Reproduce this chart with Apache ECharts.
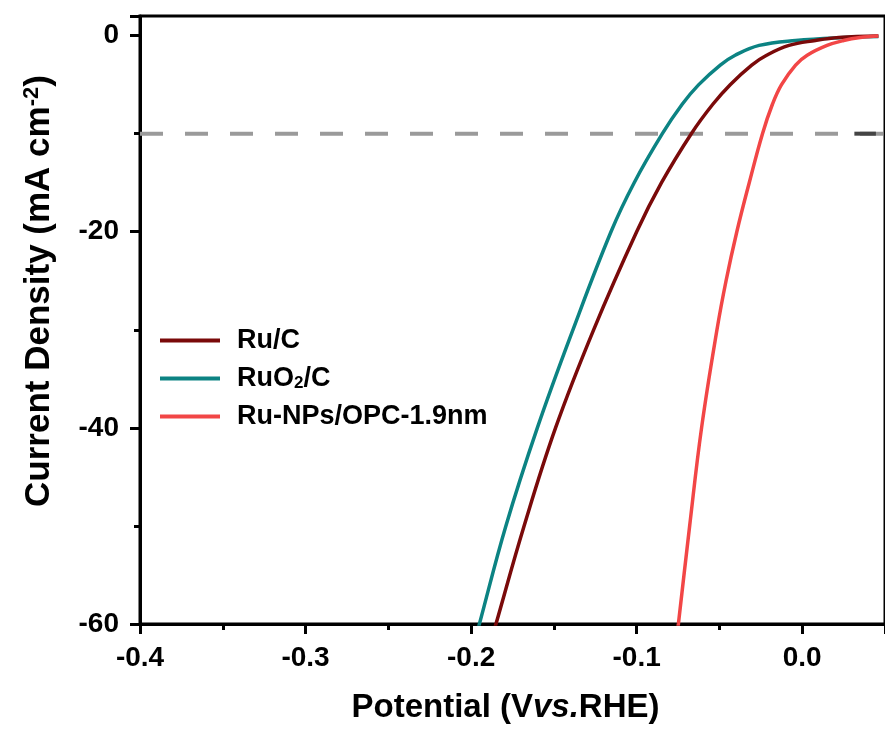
<!DOCTYPE html>
<html>
<head>
<meta charset="utf-8">
<script src="https://cdn.jsdelivr.net/npm/echarts@6/dist/echarts.min.js"></script>
<style>
html,body{margin:0;padding:0;background:#fff;}
#chart{width:885px;height:736px;}
</style>
</head>
<body>
<div id="chart"></div>
<script>
// ---- data ----
const seriesNames = ['Ru/C', 'RuO2/C', 'Ru-NPs/OPC-1.9nm'];

const currentRuC   = [-62, -60, -50, -40, -30, -20, -15, -10, -7, -5, -3, -2, -1, -0.5, -0.2, -0.05];
const potentialRuC = [-0.1884, -0.185, -0.168, -0.149, -0.126, -0.100, -0.085, -0.067, -0.054, -0.0435, -0.0305, -0.0215, -0.008, 0.008, 0.022, 0.046];

const currentRuO2   = [-62, -60, -50, -40, -30, -20, -15, -10, -7, -5, -3, -2, -1, -0.5, -0.2, -0.1];
const potentialRuO2 = [-0.1982, -0.195, -0.179, -0.160, -0.1385, -0.1155, -0.1015, -0.0845, -0.0725, -0.0625, -0.0495, -0.0405, -0.026, -0.004, 0.025, 0.046];

const currentRuNPs   = [-62, -60, -50, -40, -30, -25, -20, -15, -10, -7, -5, -3, -2, -1, -0.5, -0.2, -0.05];
const potentialRuNPs = [-0.0762, -0.0748, -0.0680, -0.0608, -0.0515, -0.0460, -0.0395, -0.0320, -0.0240, -0.0180, -0.0125, -0.0040, 0.0030, 0.0150, 0.0250, 0.0350, 0.0460];

const refPotential = [-0.4, 0.05];
const refCurrent = [-10, -10];
const refDarkPotential = [0.0315, 0.0445];
const refDarkCurrent = [-10, -10];

const xTicks = [-0.4, -0.3, -0.2, -0.1, 0.0];
const yTicks = [-60, -40, -20, 0];

// ---- build ----
function zip(a, b) { return a.map((v, i) => [v, b[i]]); }
const FONT = '"Liberation Sans", Arial, sans-serif';

const chart = echarts.init(document.getElementById('chart'), null, {renderer: 'canvas'});
chart.setOption({
  animation: false,
  backgroundColor: '#fff',
  grid: {left: 140, top: 16, bottom: 112, right: -8, show: true, borderColor: '#000', borderWidth: 3, containLabel: false},
  legend: {
    orient: 'vertical', left: 155, top: 322, itemWidth: 60, itemHeight: 4, itemGap: 11, icon: 'rect',
    data: seriesNames,
    formatter: n => n === 'RuO2/C' ? 'RuO{sub|2}/C' : n,
    textStyle: {fontFamily: FONT, fontSize: 27, fontWeight: 'bold', color: '#000', lineHeight: 26, padding: [0,0,0,12],
      rich: {sub: {fontFamily: FONT, fontSize: 17, fontWeight: 'bold', verticalAlign: 'bottom', padding: [13,0,0,0]}}}
  },
  xAxis: {
    type: 'value', min: xTicks[0], max: refPotential[1], interval: 0.1,
    name: 'Potential (V{it|vs.}RHE)', nameLocation: 'middle', nameGap: 67,
    nameTextStyle: {fontFamily: FONT, fontSize: 33, fontWeight: 'bold', color: '#000', padding: [0,14,0,0],
      rich: {it: {fontFamily: FONT, fontSize: 33, fontWeight: 'bold', fontStyle: 'italic', color: '#000'}}},
    axisLine: {show: true, onZero: false, lineStyle: {color: '#000', width: 3}},
    axisTick: {show: true, length: 10, lineStyle: {color: '#000', width: 3}},
    minorTick: {show: true, splitNumber: 2, length: 6, lineStyle: {color: '#000', width: 3}},
    splitLine: {show: false}, minorSplitLine: {show: false},
    axisLabel: {margin: 20, showMaxLabel: false, fontFamily: FONT, fontSize: 28, fontWeight: 'bold', color: '#000',
      formatter: v => xTicks.some(t => Math.abs(t - v) < 1e-6) ? v.toFixed(1) : ''}
  },
  yAxis: {
    type: 'value', min: yTicks[0], max: 2, interval: 20,
    name: 'Current Density (mA cm{sup|-2})', nameLocation: 'middle', nameGap: 82, nameRotate: 90,
    nameTextStyle: {fontFamily: FONT, fontSize: 35, fontWeight: 'bold', color: '#000', padding: [0,0,0,58],
      rich: {sup: {fontFamily: FONT, fontSize: 22, fontWeight: 'bold', color: '#000', verticalAlign: 'top', padding: [0,0,15,0]}}},
    axisLine: {show: true, onZero: false, lineStyle: {color: '#000', width: 3}},
    axisTick: {show: true, length: 10, lineStyle: {color: '#000', width: 3}},
    minorTick: {show: true, splitNumber: 2, length: 6, lineStyle: {color: '#000', width: 3}},
    splitLine: {show: false}, minorSplitLine: {show: false},
    axisLabel: {margin: 21, showMaxLabel: false, fontFamily: FONT, fontSize: 28, fontWeight: 'bold', color: '#000',
      formatter: v => yTicks.includes(Math.round(v)) && Math.abs(v - Math.round(v)) < 1e-6 ? String(Math.round(v)) : ''}
  },
  series: [
    {name: 'ref', type: 'line', data: zip(refPotential, refCurrent), symbol: 'none', silent: true, z: 1,
      lineStyle: {color: '#9a9a9a', width: 4, type: [23, 22]}},
    {name: 'refDark', type: 'line', data: zip(refDarkPotential, refDarkCurrent), symbol: 'none', silent: true, z: 1,
      lineStyle: {color: '#444444', width: 4}},
    {name: seriesNames[0], type: 'line', data: zip(potentialRuC, currentRuC), symbol: 'none', smooth: 0.4, z: 3,
      color: '#7a0a0a', lineStyle: {color: '#7a0a0a', width: 3.5}},
    {name: seriesNames[1], type: 'line', data: zip(potentialRuO2, currentRuO2), symbol: 'none', smooth: 0.4, z: 2,
      color: '#0c8383', lineStyle: {color: '#0c8383', width: 3.5}},
    {name: seriesNames[2], type: 'line', data: zip(potentialRuNPs, currentRuNPs), symbol: 'none', smooth: 0.4, z: 4,
      color: '#f24646', lineStyle: {color: '#f24646', width: 3.5}}
  ]
});
</script>
</body>
</html>
